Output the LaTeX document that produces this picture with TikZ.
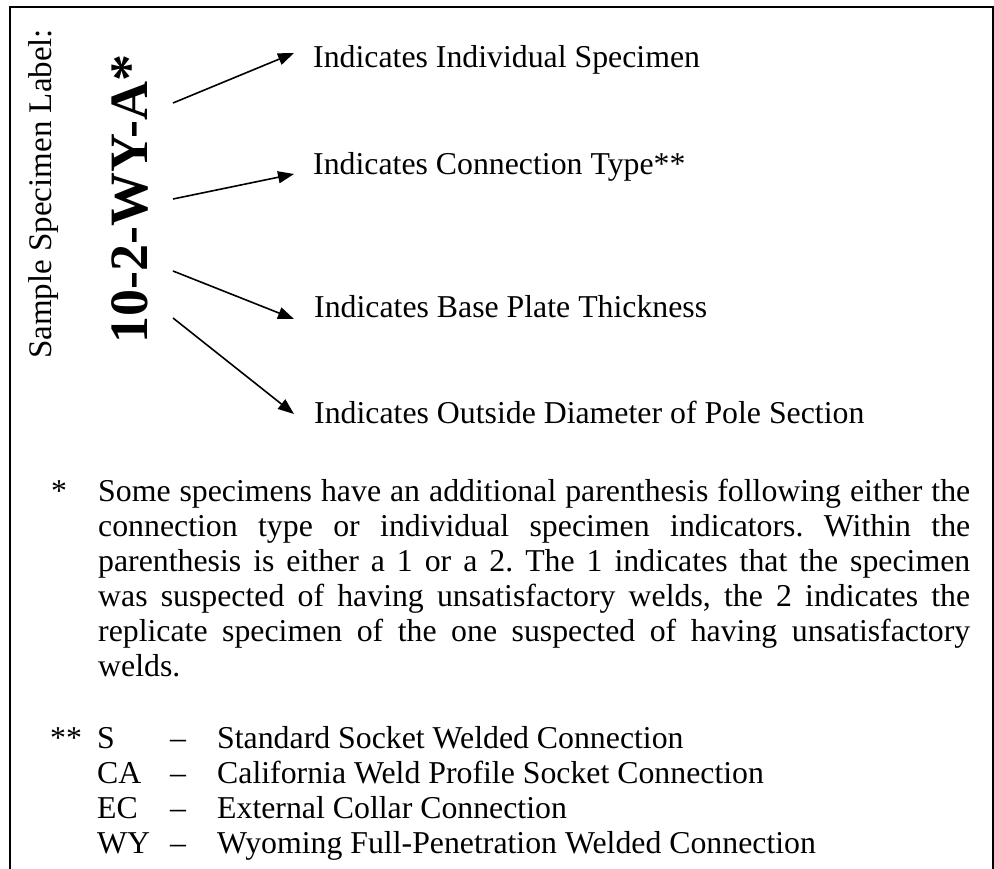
\documentclass[tikz,border=0pt]{standalone}
\usepackage{fontspec}
\setmainfont{Liberation Serif}
\usetikzlibrary{arrows.meta}
\newcommand\fsz[2]{\fontsize{#1}{#2}\selectfont}
\begin{document}
\frenchspacing
\begin{tikzpicture}[x=1pt,y=-1pt,
  lbl/.style={anchor=base west,inner sep=0pt,font=\fsz{31.8pt}{35pt}},
  ptr/.style={line width=1.6pt,-{Triangle[length=16pt,width=12pt]}},
  frame/.style={line width=2pt}]
\useasboundingbox (0,0) rectangle (994,869);
\draw[frame] (9.5,869) -- (9.5,7.5) -- (993,7.5) -- (993,869);
% rotated titles
\node[anchor=base west,inner sep=0pt,rotate=90,font=\fsz{33pt}{36pt}] (title) at (51,359) {Sample Specimen Label:};
\node[anchor=base west,inner sep=0pt,rotate=90,font=\bfseries\fsz{54pt}{60pt}] (code) at (147,344) {10-2-WY-A*};
% labels
\node[lbl] (l1) at (313,68) {Indicates Individual Specimen};
\node[lbl] (l2) at (313,175) {Indicates Connection Type**};
\node[lbl] (l3) at (314,317) {Indicates Base Plate Thickness};
\node[lbl] (l4) at (314,423) {Indicates Outside Diameter of Pole Section};
% arrows
\coordinate (s1) at (173,103); \coordinate (t1) at (294,53);
\coordinate (s2) at (173,199); \coordinate (t2) at (294,174);
\coordinate (s3) at (173,271); \coordinate (t3) at (294,319);
\coordinate (s4) at (173,318); \coordinate (t4) at (294,414);
\draw[ptr] (s1) -- (t1);
\draw[ptr] (s2) -- (t2);
\draw[ptr] (s3) -- (t3);
\draw[ptr] (s4) -- (t4);
% footnote *
\node[lbl] (star) at (51,501) {*};
\node[anchor=base west,inner sep=0pt] (para) at (98,501) {\parbox[t]{872pt}{\fsz{31.8pt}{35pt}\frenchspacing\hyphenpenalty=10000\parindent=0pt
Some specimens have an additional parenthesis following either the\linebreak
connection type or individual specimen indicators. Within the\linebreak
parenthesis is either a 1 or a 2. The 1 indicates that the specimen\linebreak
was suspected of having unsatisfactory welds, the 2 indicates the\linebreak
replicate specimen of the one suspected of having unsatisfactory\linebreak
welds.}};
% footnote **
\node[lbl] (dstar) at (50,748) {**};
\node[lbl] (c1) at (97,748) {S};
\node[lbl] (d1) at (170,748) {–};
\node[lbl] (e1) at (217,748) {Standard Socket Welded Connection};
\node[lbl] (c2) at (97,783) {CA};
\node[lbl] (d2) at (170,783) {–};
\node[lbl] (e2) at (217,783) {California Weld Profile Socket Connection};
\node[lbl] (c3) at (97,818) {EC};
\node[lbl] (d3) at (170,818) {–};
\node[lbl] (e3) at (217,818) {External Collar Connection};
\node[lbl] (c4) at (97,853) {WY};
\node[lbl] (d4) at (170,853) {–};
\node[lbl] (e4) at (217,853) {Wyoming Full-Penetration Welded Connection};
\end{tikzpicture}
\end{document}
